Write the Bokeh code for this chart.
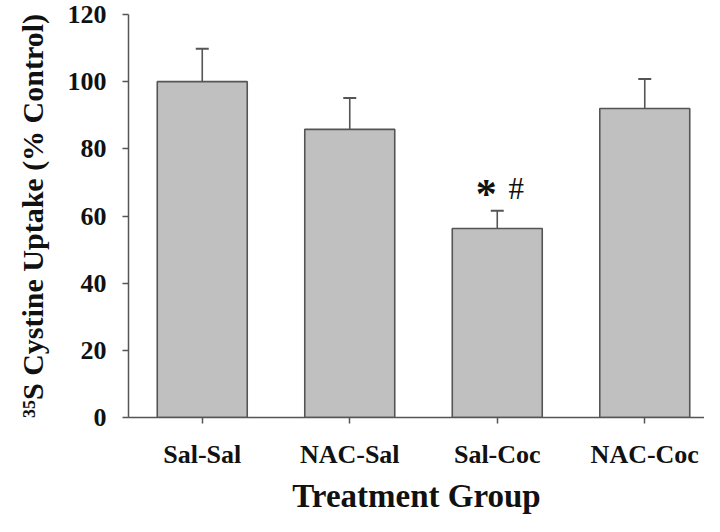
import numpy as np
from bokeh.plotting import figure
from bokeh.models import Range1d, FixedTicker, ColumnDataSource, Whisker, TeeHead
from bokeh.core.properties import value
from bokeh.embed import file_html
from bokeh.resources import INLINE

groups = ["Sal-Sal", "NAC-Sal", "Sal-Coc", "NAC-Coc"]
uptake = [100, 85.8, 56.3, 92.0]
sem = [9.8, 9.3, 5.3, 8.8]
y_ticks = [0, 20, 40, 60, 80, 100, 120]
sig_group = "Sal-Coc"
sig_marks = ["*", "#"]

FONT = "Liberation Serif"

xpos = np.arange(len(groups)) + 0.5
upper = [u + s for u, s in zip(uptake, sem)]
src = ColumnDataSource(dict(x=xpos, top=uptake, upper=upper, name=groups))

p = figure(width=704, height=516, output_backend="svg", toolbar_location=None,
           x_range=Range1d(0, 3.905), y_range=Range1d(0, 120),
           min_border_left=128, min_border_right=0, min_border_top=14,
           min_border_bottom=95)

p.vbar(x="x", top="top", bottom=0, width=0.61, source=src,
       fill_color="#c0c0c0", line_color="#555555", line_width=1.6)

w = Whisker(base="x", lower="top", upper="upper", source=src,
            line_color="#555555", line_width=1.6,
            upper_head=TeeHead(size=13, line_color="#555555", line_width=2),
            lower_head=None)
p.add_layout(w)

# significance marks
gi = groups.index(sig_group)
p.text(x=[xpos[gi]], y=[upper[gi]], text=[sig_marks[0]], x_offset=-11, y_offset=6,
       text_font=value(FONT), text_font_style="bold", text_font_size="42px",
       text_align="center", text_baseline="bottom", text_color="#111111")
p.text(x=[xpos[gi]], y=[upper[gi]], text=[sig_marks[1]], x_offset=19, y_offset=-5,
       text_font=value(FONT), text_font_size="31px",
       text_align="center", text_baseline="bottom", text_color="#111111")

p.xgrid.visible = False
p.ygrid.visible = False
p.outline_line_color = None

p.xaxis.ticker = FixedTicker(ticks=list(xpos))
p.xaxis.major_label_overrides = {float(x): g for x, g in zip(xpos, groups)}
p.yaxis.ticker = FixedTicker(ticks=y_ticks)

for ax in (p.xaxis, p.yaxis):
    ax.axis_line_color = "#555555"
    ax.axis_line_width = 1.5
    ax.major_tick_line_color = "#555555"
    ax.major_tick_line_width = 1.5
    ax.major_tick_out = 6
    ax.major_tick_in = 0
    ax.minor_tick_line_color = None
    ax.major_label_text_font = FONT
    ax.major_label_text_font_style = "bold"
    ax.major_label_text_font_size = "26px"
    ax.major_label_text_color = "#111111"
    ax.axis_label_text_font = FONT
    ax.axis_label_text_font_style = "bold"
    ax.axis_label_text_color = "#111111"

p.yaxis.major_label_standoff = 16
p.xaxis.major_label_standoff = 16
p.yaxis.axis_label = "³⁵S Cystine Uptake (% Control)"
p.yaxis.axis_label_text_font_size = "30px"
p.yaxis.axis_label_standoff = 16
p.xaxis.axis_label = "Treatment Group"
p.xaxis.axis_label_text_font_size = "33px"
p.xaxis.axis_label_standoff = 6

open("out.html", "w").write(file_html(p, INLINE))
